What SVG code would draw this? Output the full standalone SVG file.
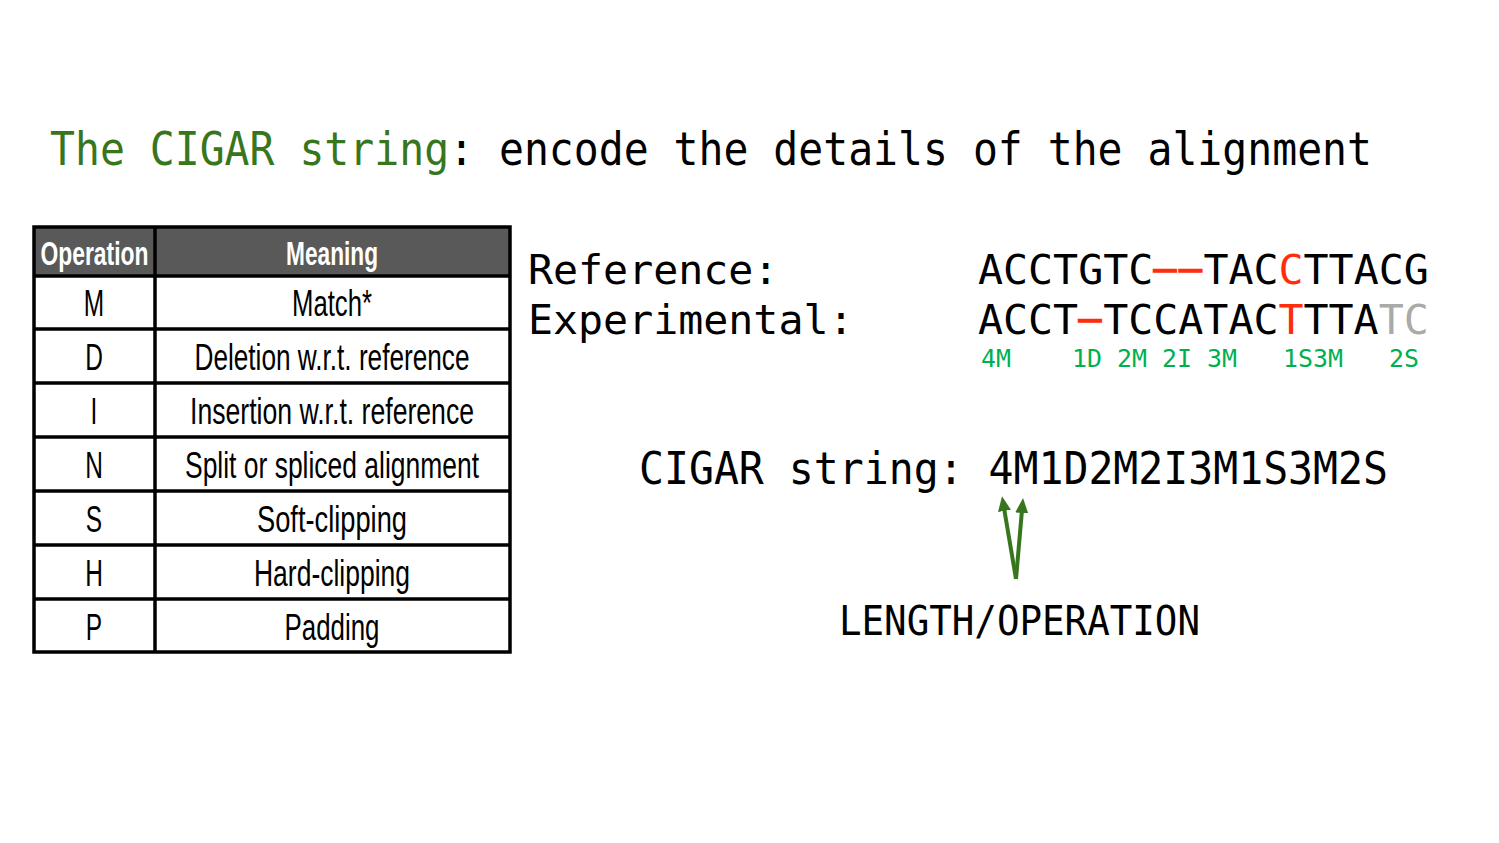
<svg xmlns="http://www.w3.org/2000/svg" width="1499" height="843" viewBox="0 0 1499 843">
  <style>
    .mono { font-family: "DejaVu Sans Mono", "Liberation Mono", monospace; }
    .narrow { font-family: "Liberation Sans Narrow", "Liberation Sans", "Noto Sans", sans-serif; }
    .cell { font-size: 36px; fill: #000; text-anchor: middle; }
    .head { font-size: 33px; font-weight: bold; fill: #fff; text-anchor: middle; }
    .grid { stroke: #000; stroke-width: 3.5; fill: none; }
    .green { fill: #38761d; }
    .red { fill: #ff2d0a; }
    .gap { fill: #ff2d0a; stroke: #ff2d0a; stroke-width: 1.4; font-size: 38px; }
    .grey { fill: #aaaaaa; }
    .op { font-size: 24.9px; fill: #00b050; }
    .link { stroke: #38761d; stroke-width: 4; fill: none; }
  </style>
  <defs>
    <marker id="tip" markerUnits="userSpaceOnUse" markerWidth="18" markerHeight="18" viewBox="0 0 18 18" refX="3" refY="9" orient="auto">
      <path d="M0,2.5 L15,9 L0,15.5 Z" fill="#38761d"/>
    </marker>
  </defs>
  <rect width="1499" height="843" fill="#fff"/>

  <!-- title -->
  <g id="title">
    <text class="mono" x="50" y="165" font-size="46" textLength="1322" lengthAdjust="spacingAndGlyphs"><tspan class="green">The CIGAR string</tspan><tspan fill="#000">: encode the details of the alignment</tspan></text>
  </g>

  <!-- operations table -->
  <g id="ops-table">
    <rect x="34" y="227" width="476" height="49" fill="#595959"/>
    <rect class="grid" x="34" y="227" width="476" height="425"/>
    <line class="grid" x1="155" y1="227" x2="155" y2="652"/>
    <line class="grid" x1="34" y1="276" x2="510" y2="276"/>
    <line class="grid" x1="34" y1="329" x2="510" y2="329"/>
    <line class="grid" x1="34" y1="383" x2="510" y2="383"/>
    <line class="grid" x1="34" y1="437" x2="510" y2="437"/>
    <line class="grid" x1="34" y1="491" x2="510" y2="491"/>
    <line class="grid" x1="34" y1="545" x2="510" y2="545"/>
    <line class="grid" x1="34" y1="599" x2="510" y2="599"/>

    <text class="narrow head" x="94.5" y="265" textLength="108" lengthAdjust="spacingAndGlyphs">Operation</text>
    <text class="narrow head" x="332" y="265" textLength="92" lengthAdjust="spacingAndGlyphs">Meaning</text>

    <!-- operation letters, condensed -->
    <g transform="translate(94 0) scale(0.68 1)">
      <text class="narrow cell" x="0" y="316">M</text>
      <text class="narrow cell" x="0" y="370">D</text>
      <text class="narrow cell" x="0" y="424">I</text>
      <text class="narrow cell" x="0" y="478">N</text>
      <text class="narrow cell" x="0" y="532">S</text>
      <text class="narrow cell" x="0" y="586">H</text>
      <text class="narrow cell" x="0" y="640">P</text>
    </g>

    <text class="narrow cell" x="332" y="316" textLength="80" lengthAdjust="spacingAndGlyphs">Match*</text>
    <text class="narrow cell" x="332" y="370" textLength="275" lengthAdjust="spacingAndGlyphs">Deletion w.r.t. reference</text>
    <text class="narrow cell" x="332" y="424" textLength="284" lengthAdjust="spacingAndGlyphs">Insertion w.r.t. reference</text>
    <text class="narrow cell" x="332" y="478" textLength="294" lengthAdjust="spacingAndGlyphs">Split or spliced alignment</text>
    <text class="narrow cell" x="332" y="532" textLength="150" lengthAdjust="spacingAndGlyphs">Soft-clipping</text>
    <text class="narrow cell" x="332" y="586" textLength="156" lengthAdjust="spacingAndGlyphs">Hard-clipping</text>
    <text class="narrow cell" x="332" y="640" textLength="95" lengthAdjust="spacingAndGlyphs">Padding</text>
  </g>

  <!-- aligned sequences -->
  <g id="alignment" class="mono" font-size="41.6">
    <text x="528" y="284">Reference:</text>
    <text x="528" y="334">Experimental:</text>
    <text x="978" y="284">ACCTGTC<tspan class="gap" x="1153.5" y="281">–</tspan><tspan class="gap" x="1179" y="281">–</tspan><tspan x="1203.4" y="284">TAC</tspan><tspan class="red">C</tspan>TTACG</text>
    <text x="978" y="334">ACCT<tspan class="gap" x="1078.5" y="331">–</tspan><tspan x="1103.2" y="334">TCCATAC</tspan><tspan class="red">T</tspan>TTA<tspan class="grey">TC</tspan></text>
  </g>

  <!-- per-block operation labels -->
  <g id="op-labels" class="mono op">
    <text x="981" y="367">4M</text>
    <text x="1072" y="367">1D</text>
    <text x="1117" y="367">2M</text>
    <text x="1162" y="367">2I</text>
    <text x="1207" y="367">3M</text>
    <text x="1283" y="367">1S3M</text>
    <text x="1389" y="367">2S</text>
  </g>

  <!-- resulting CIGAR -->
  <g id="cigar">
    <text class="mono" x="639" y="484" font-size="45" textLength="749" lengthAdjust="spacingAndGlyphs">CIGAR string: 4M1D2M2I3M1S3M2S</text>
  </g>

  <g id="legend">
    <text class="mono" x="839" y="635" font-size="41" textLength="361" lengthAdjust="spacingAndGlyphs">LENGTH/OPERATION</text>
  </g>

  <!-- pointers from legend to the first length/operation pair -->
  <g id="connectors">
    <line class="link" x1="1016" y1="579" x2="1004" y2="508" marker-end="url(#tip)"/>
    <line class="link" x1="1016" y1="579" x2="1022" y2="510" marker-end="url(#tip)"/>
  </g>
</svg>
